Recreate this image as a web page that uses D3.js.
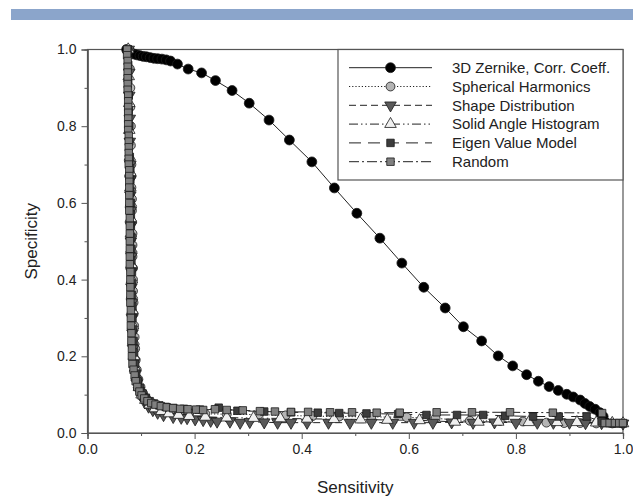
<!DOCTYPE html>
<html>
<head>
<meta charset="utf-8">
<script src="https://cdn.jsdelivr.net/npm/d3@7"></script>
<style>
  html, body { margin: 0; padding: 0; background: #fff; }
  svg { display: block; font-family: "Liberation Sans", Arial, sans-serif; }
</style>
</head>
<body>
<svg id="chart" width="633" height="498"></svg>
<script>
// ---------- data (sensitivity, specificity) ----------
const seriesNames = ["3D Zernike, Corr. Coeff.", "Spherical Harmonics", "Shape Distribution",
                     "Solid Angle Histogram", "Eigen Value Model", "Random"];

const zernike = [[0.073,1.0],[0.076,0.995],[0.079,0.992],[0.083,0.99],[0.087,0.988],[0.092,0.986],[0.098,0.984],[0.104,0.982],[0.110,0.981],[0.117,0.979],[0.124,0.977],[0.131,0.976],[0.139,0.975],[0.147,0.973],[0.155,0.970],[0.168,0.962],[0.188,0.949],[0.213,0.939],[0.239,0.919],[0.270,0.893],[0.302,0.860],[0.339,0.816],[0.377,0.764],[0.419,0.707],[0.461,0.639],[0.503,0.573],[0.546,0.508],[0.587,0.443],[0.628,0.380],[0.668,0.326],[0.702,0.277],[0.736,0.240],[0.767,0.201],[0.794,0.175],[0.820,0.152],[0.842,0.135],[0.862,0.121],[0.879,0.111],[0.895,0.101],[0.907,0.094],[0.920,0.086],[0.929,0.077],[0.938,0.069],[0.948,0.062],[0.957,0.053],[0.963,0.043],[0.966,0.030]];

const spherical = [[0.078,1.0],[0.079,0.95],[0.080,0.90],[0.080,0.85],[0.081,0.80],[0.081,0.75],[0.082,0.70],[0.082,0.67],[0.082,0.64],[0.083,0.61],[0.083,0.58],[0.083,0.55],[0.084,0.52],[0.084,0.49],[0.084,0.46],[0.085,0.43],[0.085,0.40],[0.085,0.37],[0.086,0.34],[0.086,0.31],[0.087,0.28],[0.088,0.25],[0.089,0.22],[0.090,0.19],[0.092,0.165],[0.095,0.14],[0.099,0.12],[0.104,0.103],[0.110,0.09],[0.118,0.079],[0.128,0.07],[0.140,0.063],[0.155,0.058],[0.172,0.054],[0.19,0.052],[0.22,0.05],[0.26,0.049],[0.32,0.048],[0.37,0.046],[0.42,0.044],[0.47,0.043],[0.53,0.042],[0.596,0.041],[0.65,0.038],[0.714,0.032],[0.77,0.031],[0.813,0.030],[0.857,0.027],[0.89,0.026],[0.92,0.026],[0.95,0.025],[0.98,0.025],[1.0,0.025]];

const shapeDist = [[0.077,1.0],[0.078,0.94],[0.078,0.88],[0.079,0.82],[0.079,0.76],[0.080,0.70],[0.080,0.66],[0.080,0.62],[0.081,0.58],[0.081,0.54],[0.081,0.50],[0.082,0.46],[0.082,0.42],[0.082,0.38],[0.083,0.34],[0.083,0.30],[0.084,0.26],[0.085,0.22],[0.087,0.185],[0.089,0.155],[0.092,0.13],[0.096,0.11],[0.101,0.094],[0.107,0.08],[0.114,0.069],[0.122,0.06],[0.131,0.053],[0.142,0.047],[0.16,0.042],[0.175,0.04],[0.186,0.039],[0.201,0.036],[0.216,0.034],[0.23,0.032],[0.242,0.030],[0.266,0.03],[0.285,0.027],[0.303,0.029],[0.33,0.028],[0.355,0.027],[0.38,0.027],[0.41,0.027],[0.45,0.027],[0.49,0.027],[0.53,0.027],[0.57,0.027],[0.61,0.027],[0.645,0.027],[0.68,0.028],[0.72,0.027],[0.76,0.028],[0.80,0.027],[0.84,0.027],[0.87,0.027],[0.90,0.027],[0.93,0.026],[0.96,0.026],[1.0,0.025]];

const solidAngle = [[0.076,1.0],[0.077,0.93],[0.078,0.86],[0.078,0.79],[0.079,0.72],[0.080,0.68],[0.080,0.64],[0.081,0.60],[0.081,0.56],[0.081,0.52],[0.082,0.48],[0.082,0.44],[0.083,0.40],[0.083,0.36],[0.084,0.32],[0.085,0.28],[0.086,0.24],[0.087,0.20],[0.089,0.17],[0.092,0.145],[0.096,0.12],[0.101,0.10],[0.108,0.086],[0.116,0.074],[0.126,0.064],[0.138,0.057],[0.152,0.051],[0.17,0.047],[0.19,0.044],[0.22,0.042],[0.26,0.04],[0.31,0.039],[0.36,0.038],[0.41,0.037],[0.46,0.036],[0.51,0.035],[0.56,0.034],[0.62,0.033],[0.686,0.029],[0.73,0.029],[0.767,0.029],[0.824,0.028],[0.877,0.028],[0.914,0.028],[0.95,0.027],[0.98,0.026],[1.0,0.025]];

const eigenValue = [[0.075,1.0],[0.076,0.96],[0.076,0.92],[0.077,0.88],[0.077,0.84],[0.078,0.80],[0.078,0.76],[0.079,0.72],[0.080,0.69],[0.080,0.66],[0.080,0.63],[0.081,0.60],[0.081,0.57],[0.081,0.54],[0.082,0.51],[0.082,0.48],[0.082,0.45],[0.083,0.42],[0.083,0.39],[0.083,0.36],[0.084,0.33],[0.084,0.30],[0.085,0.27],[0.086,0.24],[0.087,0.21],[0.089,0.18],[0.091,0.155],[0.094,0.135],[0.098,0.117],[0.103,0.103],[0.109,0.092],[0.116,0.083],[0.124,0.077],[0.134,0.072],[0.146,0.068],[0.16,0.065],[0.18,0.063],[0.21,0.061],[0.245,0.066],[0.28,0.058],[0.33,0.056],[0.38,0.054],[0.43,0.053],[0.47,0.052],[0.521,0.051],[0.58,0.049],[0.633,0.047],[0.69,0.047],[0.739,0.047],[0.78,0.045],[0.832,0.043],[0.88,0.043],[0.932,0.043],[0.96,0.03],[0.97,0.026],[0.98,0.025],[0.99,0.025],[1.0,0.025]];

const randomModel = [[0.074,1.0],[0.074,0.985],[0.075,0.97],[0.075,0.955],[0.075,0.94],[0.075,0.925],[0.075,0.91],[0.075,0.895],[0.076,0.88],[0.076,0.865],[0.076,0.85],[0.076,0.835],[0.076,0.82],[0.076,0.805],[0.076,0.79],[0.077,0.775],[0.077,0.76],[0.077,0.745],[0.077,0.73],[0.077,0.715],[0.077,0.70],[0.078,0.685],[0.078,0.67],[0.078,0.655],[0.078,0.64],[0.078,0.62],[0.078,0.60],[0.078,0.58],[0.079,0.56],[0.079,0.54],[0.079,0.52],[0.079,0.50],[0.079,0.48],[0.079,0.46],[0.079,0.44],[0.080,0.42],[0.080,0.40],[0.080,0.38],[0.080,0.36],[0.080,0.34],[0.081,0.32],[0.081,0.30],[0.081,0.28],[0.082,0.26],[0.082,0.24],[0.083,0.22],[0.083,0.20],[0.084,0.18],[0.086,0.165],[0.088,0.15],[0.090,0.135],[0.093,0.12],[0.097,0.108],[0.101,0.098],[0.106,0.09],[0.112,0.083],[0.119,0.078],[0.127,0.074],[0.137,0.07],[0.148,0.067],[0.16,0.065],[0.173,0.063],[0.187,0.062],[0.203,0.061],[0.216,0.060],[0.238,0.062],[0.26,0.06],[0.29,0.059],[0.322,0.057],[0.35,0.056],[0.38,0.055],[0.412,0.055],[0.453,0.054],[0.494,0.054],[0.54,0.053],[0.583,0.053],[0.652,0.054],[0.718,0.054],[0.789,0.054],[0.869,0.053],[0.961,0.052],[0.966,0.026],[0.975,0.026],[0.985,0.026],[0.993,0.026],[1.0,0.026]];

const majorTicks = [0.0, 0.2, 0.4, 0.6, 0.8, 1.0];
const minorTicks = [0.1, 0.3, 0.5, 0.7, 0.9];
const xTitle = "Sensitivity";
const yTitle = "Specificity";

// ---------- styles ----------
const seriesData = [zernike, spherical, shapeDist, solidAngle, eigenValue, randomModel];
const styles = [
  {symbol: d3.symbolCircle,   size: 76, rot: 0,   fill: "#000000", dash: null},
  {symbol: d3.symbolCircle,   size: 62, rot: 0,   fill: "#b4b4b4", dash: "1.2,2"},
  {symbol: d3.symbolTriangle, size: 58, rot: 180, fill: "#5a5a5a", dash: "7,4"},
  {symbol: d3.symbolTriangle, size: 58, rot: 0,   fill: "#f0f0f0", dash: "9,3,1.5,3,1.5,3"},
  {symbol: d3.symbolSquare,   size: 56, rot: 0,   fill: "#3c3c3c", dash: "12,7"},
  {symbol: d3.symbolSquare,   size: 56, rot: 0,   fill: "#808080", dash: "10,3,2,3"}
];

const svg = d3.select("#chart");

// top banner
svg.append("rect").attr("x", 11).attr("y", 9).attr("width", 622).attr("height", 11).attr("fill", "#8ba5cb");

const m = {left: 87.5, right: 623, top: 49.5, bottom: 433};
const x = d3.scaleLinear().domain([0, 1]).range([m.left, m.right]);
const y = d3.scaleLinear().domain([0, 1]).range([m.bottom, m.top]);

const axisColor = "#555";

// frame
svg.append("rect").attr("x", m.left).attr("y", m.top)
  .attr("width", m.right - m.left).attr("height", m.bottom - m.top)
  .attr("fill", "none").attr("stroke", axisColor).attr("stroke-width", 1.2);

function styleAxis(g) {
  g.select(".domain").attr("stroke", axisColor).attr("stroke-width", 1.2);
  g.selectAll(".tick line").attr("stroke", axisColor).attr("stroke-width", 1);
  g.selectAll(".tick text").attr("fill", "#222").style("font-size", "14px")
    .style("font-family", "'Liberation Sans', Arial, sans-serif");
}

const fmt = d3.format(".1f");
svg.append("g").attr("transform", `translate(0,${m.bottom})`)
  .call(d3.axisBottom(x).tickValues(majorTicks).tickFormat(fmt).tickSize(6).tickPadding(5))
  .call(styleAxis);
svg.append("g").attr("transform", `translate(0,${m.bottom})`)
  .call(d3.axisBottom(x).tickValues(minorTicks).tickFormat("").tickSize(3))
  .call(styleAxis);
svg.append("g").attr("transform", `translate(${m.left},0)`)
  .call(d3.axisLeft(y).tickValues(majorTicks).tickFormat(fmt).tickSize(6).tickPadding(5))
  .call(styleAxis);
svg.append("g").attr("transform", `translate(${m.left},0)`)
  .call(d3.axisLeft(y).tickValues(minorTicks).tickFormat("").tickSize(3))
  .call(styleAxis);

// axis titles
svg.append("text").attr("x", (m.left + m.right) / 2).attr("y", 493)
  .attr("text-anchor", "middle").style("font-size", "17px").attr("fill", "#222").text(xTitle);
svg.append("text").attr("transform", `translate(37,${(m.top + m.bottom) / 2}) rotate(-90)`)
  .attr("text-anchor", "middle").style("font-size", "17px").attr("fill", "#222").text(yTitle);

// series
const line = d3.line().x(d => x(d[0])).y(d => y(d[1]));
const plot = svg.append("g");
seriesData.forEach((data, i) => {
  const st = styles[i];
  plot.append("path").datum(data).attr("d", line)
    .attr("fill", "none").attr("stroke", "#222").attr("stroke-width", 1)
    .attr("stroke-dasharray", st.dash);
});
seriesData.forEach((data, i) => {
  const st = styles[i];
  const sym = d3.symbol().type(st.symbol).size(st.size);
  plot.append("g").selectAll("path").data(data).join("path")
    .attr("d", sym)
    .attr("transform", d => `translate(${x(d[0])},${y(d[1])}) rotate(${st.rot})`)
    .attr("fill", st.fill).attr("stroke", "#1a1a1a").attr("stroke-width", 0.8);
});

// legend
const lg = svg.append("g");
lg.append("rect").attr("x", 338).attr("y", m.top).attr("width", m.right - 338).attr("height", 180 - m.top)
  .attr("fill", "#fff").attr("stroke", axisColor).attr("stroke-width", 1.2);
seriesNames.forEach((name, i) => {
  const st = styles[i];
  const cy = 67.7 + i * 18.8;
  lg.append("line").attr("x1", 349).attr("x2", 432).attr("y1", cy).attr("y2", cy)
    .attr("stroke", "#222").attr("stroke-width", 1).attr("stroke-dasharray", st.dash);
  lg.append("path").attr("d", d3.symbol().type(st.symbol).size(st.size)())
    .attr("transform", `translate(390.5,${cy}) rotate(${st.rot})`)
    .attr("fill", st.fill).attr("stroke", "#1a1a1a").attr("stroke-width", 0.8);
  lg.append("text").attr("x", 452).attr("y", cy + 5.3).style("font-size", "15px")
    .attr("fill", "#222").text(name);
});
</script>
</body>
</html>
